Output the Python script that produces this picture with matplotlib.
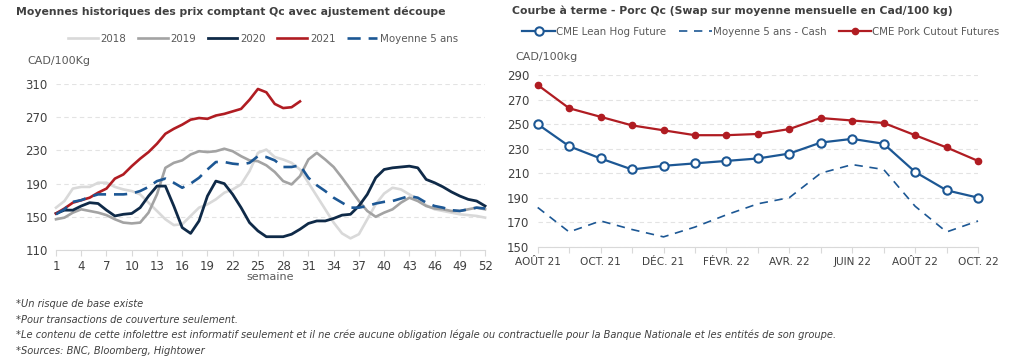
import matplotlib
matplotlib.use("Agg")
import matplotlib.pyplot as plt
import numpy as np

# --- donnees graphique de gauche (semaines 1 a 52) ---
semaines = np.arange(1, 53)

prix_2018 = [161, 169, 184, 186, 186, 191, 191, 186, 183, 181, 177, 167, 157, 147,
             140, 141, 151, 161, 165, 171, 179, 183, 189, 205, 227, 231, 222, 219,
             215, 207, 191, 175, 159, 143, 130, 124, 129, 147, 165, 178, 185, 183,
             177, 171, 164, 159, 157, 155, 153, 152, 151, 149]
prix_2019 = [147, 149, 155, 159, 157, 155, 152, 147, 143, 142, 143, 155, 177, 209,
             215, 218, 225, 229, 228, 229, 232, 229, 223, 218, 217, 212, 204, 193,
             189, 199, 219, 227, 219, 210, 197, 183, 169, 157, 150, 155, 159, 167,
             173, 169, 163, 160, 159, 157, 157, 159, 161, 159]
prix_2020 = [154, 158, 158, 163, 167, 166, 158, 151, 153, 154, 161, 175, 187, 187,
             163, 137, 130, 145, 175, 193, 190, 177, 161, 143, 133, 126, 126, 126,
             129, 135, 142, 145, 145, 148, 152, 153, 163, 177, 197, 207, 209, 210,
             211, 209, 195, 191, 186, 180, 175, 171, 169, 163]
prix_2021 = [154, 160, 167, 170, 173, 179, 184, 196, 201, 211, 220, 228, 238, 250,
             256, 261, 267, 269, 268, 272, 274, 277, 280, 291, 304, 300, 286, 281,
             282, 289]
moy_5ans = [153, 159, 168, 170, 174, 177, 177, 177, 177, 178, 181, 186, 193, 196,
            191, 185, 190, 197, 207, 216, 216, 214, 213, 215, 223, 222, 218, 210,
            210, 212, 197, 188, 181, 173, 167, 161, 161, 163, 166, 168, 169, 172,
            175, 173, 167, 163, 161, 158, 157, 159, 161, 160]

# --- donnees graphique de droite (courbe a terme) ---
mois = ["AOÛT 21", "SEPT. 21", "OCT. 21", "NOV. 21", "DÉC. 21", "JANV. 22", "FÉVR. 22",
        "MARS 22", "AVR. 22", "MAI 22", "JUIN 22", "JUIL. 22", "AOÛT 22", "SEPT. 22", "OCT. 22"]
lean_hog = [250, 232, 222, 213, 216, 218, 220, 222, 226, 235, 238, 234, 211, 196, 190]
moy_cash = [182, 162, 171, 164, 158, 166, 176, 185, 190, 210, 217, 213, 183, 162, 171]
pork_cutout = [282, 263, 256, 249, 245, 241, 241, 242, 246, 255, 253, 251, 241, 231, 220]

c2018 = "#d9d9d9"
c2019 = "#a3a3a3"
c2020 = "#0f2a48"
c2021 = "#b01c22"
cbleu = "#1c5794"
ctexte = "#595959"

plt.rcParams['font.family'] = ['DejaVu Sans']

fig = plt.figure(figsize=(10.24, 3.58), dpi=100)

def style_axe(ax, taille_x):
    for s in ["top", "right", "left"]:
        ax.spines[s].set_visible(False)
    ax.spines["bottom"].set_color("#d9d9d9")
    ax.grid(axis="y", color="#e3e3e3", linestyle=(0, (4, 3)), linewidth=0.8)
    ax.set_axisbelow(True)
    ax.tick_params(axis="y", length=0, labelsize=8.5, pad=6)
    ax.tick_params(axis="x", length=4, color="#d9d9d9", labelsize=taille_x)
    for t in ax.get_xticklabels() + ax.get_yticklabels():
        t.set_color("#404040")

# ---------- gauche ----------
ax1 = fig.add_axes([0.0547, 0.3017, 0.419, 0.4637])
ax1.plot(semaines, prix_2018, color=c2018, lw=1.9, label="2018")
ax1.plot(semaines, prix_2019, color=c2019, lw=1.9, label="2019")
ax1.plot(semaines, prix_2020, color=c2020, lw=2.0, label="2020")
ax1.plot(semaines[:len(prix_2021)], prix_2021, color=c2021, lw=1.9, label="2021")
ax1.plot(semaines, moy_5ans, color=cbleu, lw=1.9, linestyle=(0, (5, 3)), label="Moyenne 5 ans")
ax1.set_xlim(1, 52)
ax1.set_ylim(110, 310)
ax1.set_yticks([110, 150, 190, 230, 270, 310])
ax1.set_xticks(np.arange(1, 53, 3))
style_axe(ax1, 8.5)
for ln in ax1.lines:
    ln.set_clip_on(False)
ax1.set_xlabel("semaine", color=ctexte, fontsize=8, labelpad=-1)
fig.text(27 / 1024, 1 - 61 / 358, "CAD/100Kg", color=ctexte, fontsize=8, va="center")
leg1 = fig.legend(handles=ax1.lines, loc="center", bbox_to_anchor=(263 / 1024, 1 - 39 / 358),
                  ncol=5, frameon=False, fontsize=7.4, handlelength=2.9, columnspacing=1.1,
                  handletextpad=0.3)
for t in leg1.get_texts():
    t.set_color(ctexte)
fig.text(16 / 1024, 1 - 12 / 358, "Moyennes historiques des prix comptant Qc avec ajustement découpe",
         fontsize=7.8, fontweight="bold", color="#404040", va="center")

# ---------- droite ----------
ax2 = fig.add_axes([0.5251, 0.311, 0.43, 0.479])
x = np.arange(len(mois))
ax2.plot(x, lean_hog, color=cbleu, lw=1.6, marker="o", markersize=6,
         markerfacecolor="white", markeredgecolor=cbleu, markeredgewidth=1.5,
         label="CME Lean Hog Future")
ax2.plot(x, moy_cash, color=cbleu, lw=1.2, linestyle=(0, (5, 4)), label="Moyenne 5 ans - Cash")
ax2.plot(x, pork_cutout, color=c2021, lw=1.6, marker="o", markersize=4.5,
         markerfacecolor=c2021, markeredgecolor=c2021, label="CME Pork Cutout Futures")
ax2.set_xlim(0, len(mois) - 1)
ax2.set_ylim(150, 290)
ax2.set_yticks(np.arange(150, 291, 20))
ax2.set_xticks(x)
ax2.set_xticklabels([m if i % 2 == 0 else "" for i, m in enumerate(mois)])
style_axe(ax2, 7.6)
for ln in ax2.lines:
    ln.set_clip_on(False)
fig.text(515 / 1024, 1 - 57 / 358, "CAD/100kg", color=ctexte, fontsize=8, va="center")
leg2 = fig.legend(handles=ax2.lines, loc="center", bbox_to_anchor=(761 / 1024, 1 - 32 / 358),
                  ncol=3, frameon=False, fontsize=7.4, handlelength=3.2, columnspacing=1.2,
                  handletextpad=0.1)
for t in leg2.get_texts():
    t.set_color(ctexte)
fig.text(512 / 1024, 1 - 11 / 358, "Courbe à terme - Porc Qc (Swap sur moyenne mensuelle en Cad/100 kg)",
         fontsize=7.8, fontweight="bold", color="#404040", va="center")

# ---------- notes ----------
notes = ["*Un risque de base existe",
         "*Pour transactions de couverture seulement.",
         "*Le contenu de cette infolettre est informatif seulement et il ne crée aucune obligation légale ou contractuelle pour la Banque Nationale et les entités de son groupe.",
         "*Sources: BNC, Bloomberg, Hightower"]
for i, n in enumerate(notes):
    fig.text(16 / 1024, 1 - (304 + i * 15.6) / 358, n, fontsize=7.1, style="italic",
             color="#404040", va="center")

fig.savefig("out.png", dpi=100)
